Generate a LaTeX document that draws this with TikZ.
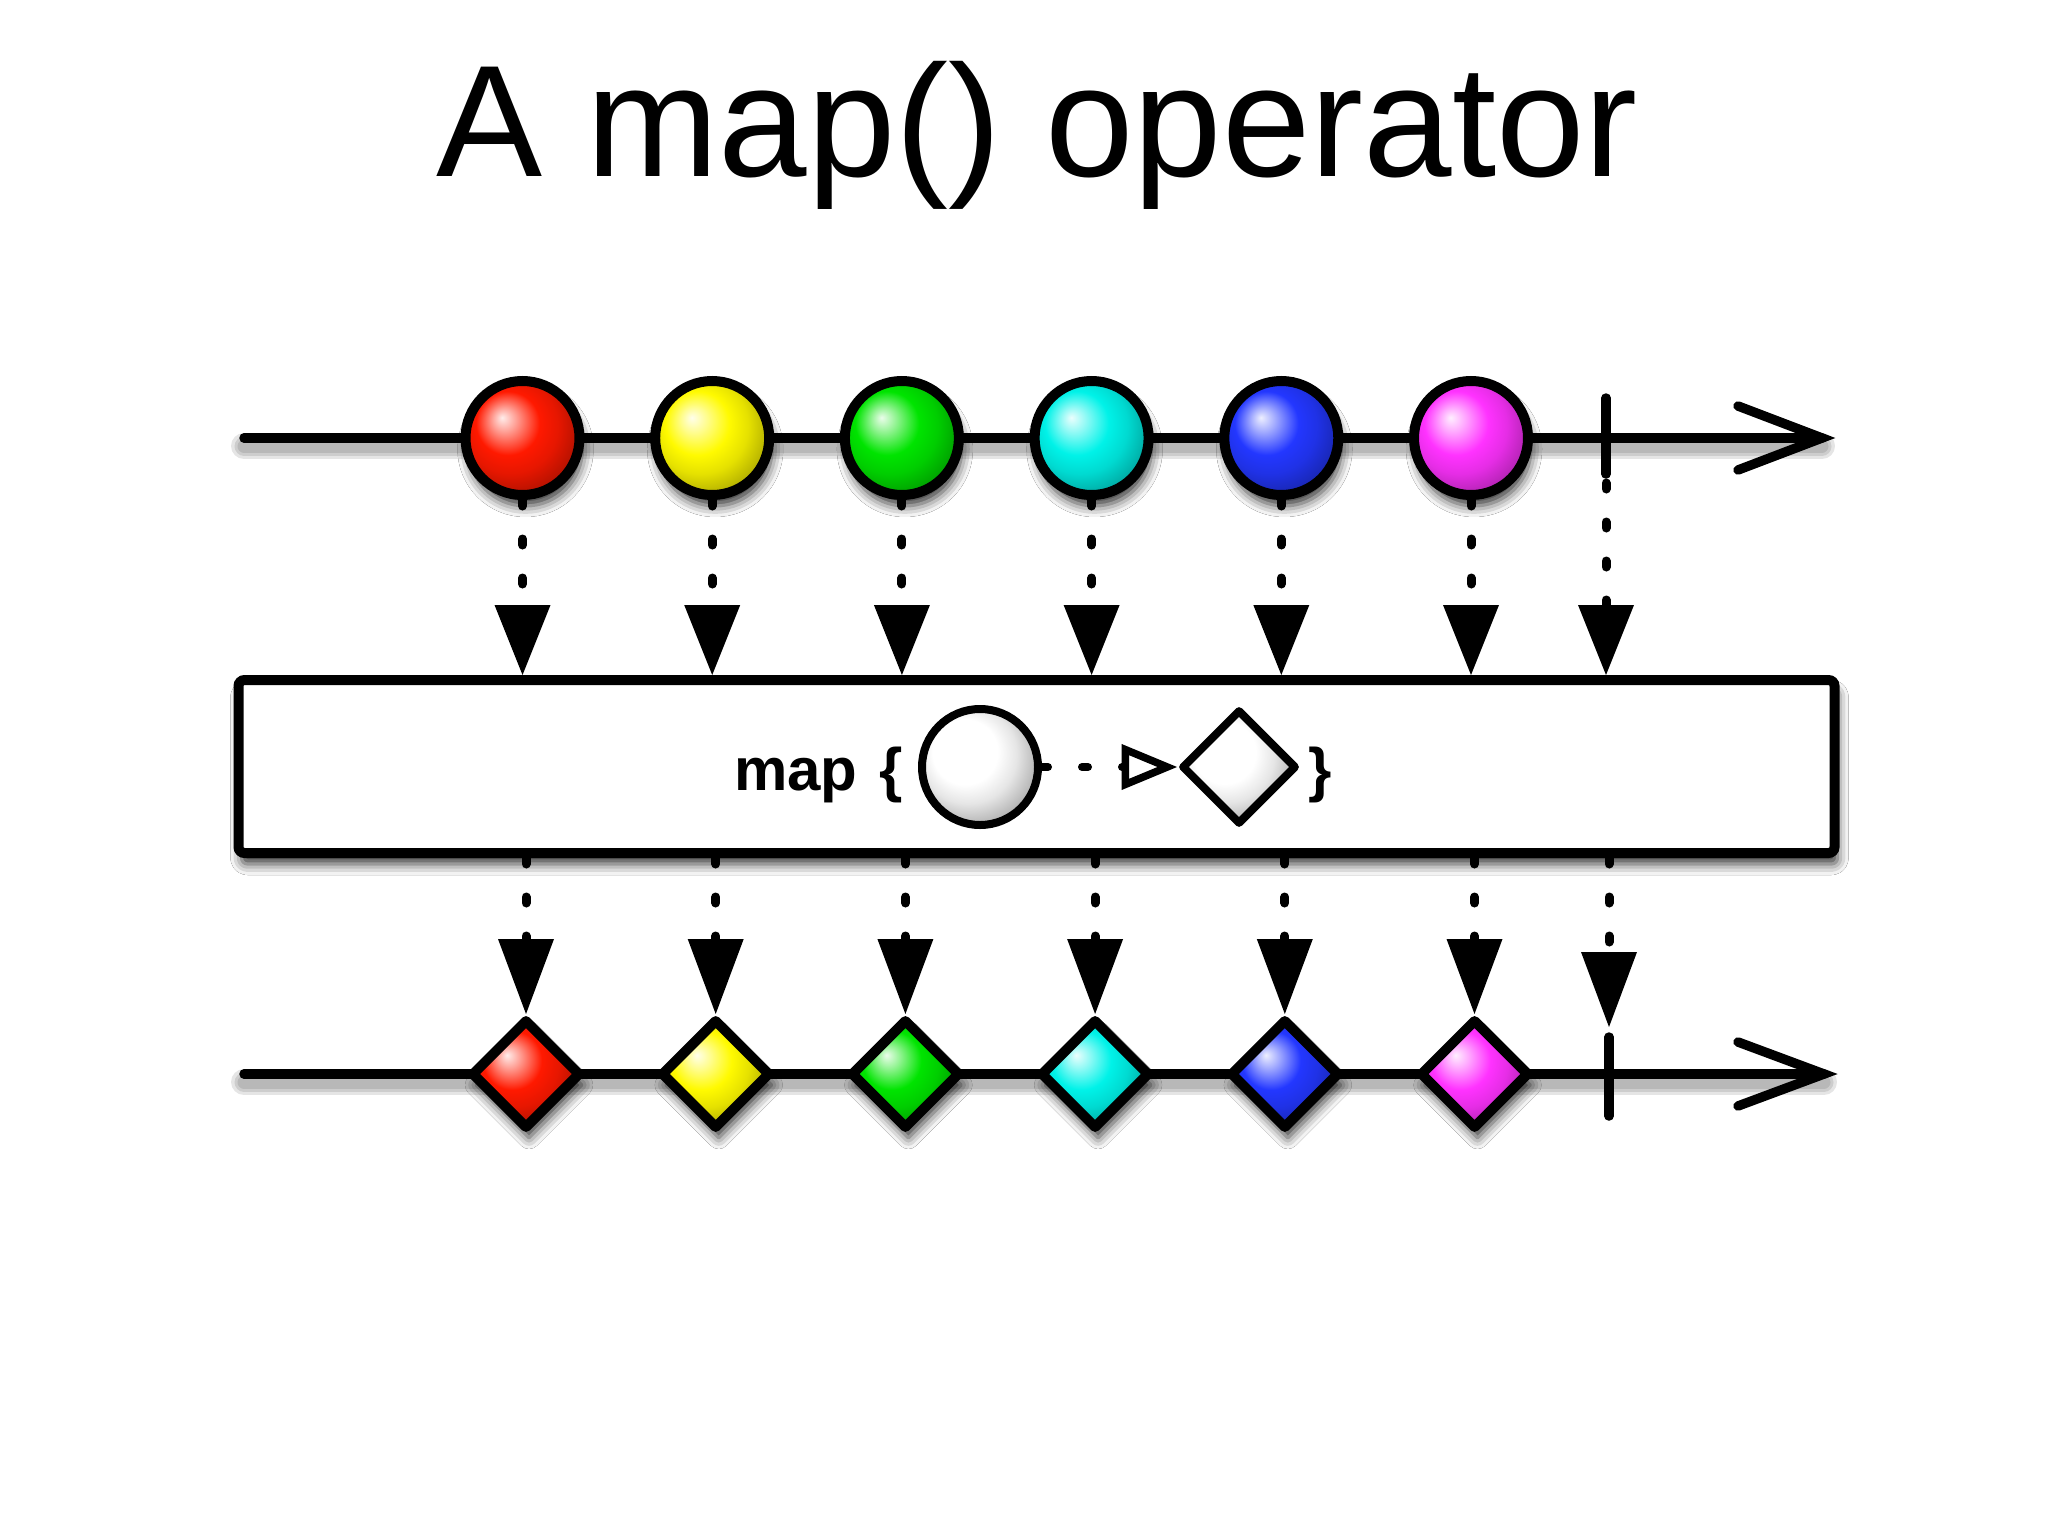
\documentclass[tikz,border=0pt]{standalone}
\usepackage{fontspec}
\setmainfont{Liberation Sans}
\usetikzlibrary{arrows.meta,shapes.geometric,shadows.blur}

\colorlet{mycol}{red}
\pgfdeclareradialshading[mycol]{glossy}{\pgfpoint{-9bp}{9bp}}{%
  color(0bp)=(mycol!8!white); color(5bp)=(mycol!40!white); color(14bp)=(mycol);
  color(21bp)=(mycol!90!black); color(29bp)=(mycol!70!black); color(50bp)=(mycol!70!black)}

\definecolor{cRed}{RGB}{255,25,0}
\definecolor{cYel}{RGB}{255,250,0}
\definecolor{cGrn}{RGB}{0,228,0}
\definecolor{cCyn}{RGB}{0,242,232}
\definecolor{cBlu}{RGB}{35,55,255}
\definecolor{cMag}{RGB}{255,50,255}

\tikzset{
  softshadow/.style={blur shadow={shadow xshift=3pt, shadow yshift=-11pt, shadow blur radius=11pt, shadow opacity=80}},
  tl/.style={line width=9.5pt, line cap=round},
  tlshadow/.style={line width=#1, draw=black, opacity=0.1, line cap=round},
  marble/.style={circle, draw, line width=10pt, minimum size=114pt, inner sep=0pt, shade, shading=glossy, softshadow},
  gem/.style={diamond, draw, line width=10pt, line join=round, minimum size=110pt, inner sep=0pt, shade, shading=glossy, softshadow},
  opbox/.style={rectangle, draw, fill=white, line width=10pt, rounded corners=6pt, minimum width=1596pt, minimum height=173pt, inner sep=0pt, softshadow},
  flowtop/.style={line width=9pt, line cap=round, dash pattern=on 6pt off 33pt,
    -{Triangle[width=56pt, length=70pt, line width=0pt]}},
  flowbot/.style={line width=9pt, line cap=round, dash pattern=on 6pt off 33pt,
    -{Triangle[width=56pt, length=75pt, line width=0pt]}},
  fdash/.style={line width=8pt, line cap=round, dash pattern=on 6pt off 34pt,
    -{Triangle[open, width=44pt, length=56pt, line width=7.5pt]}},
  boxtext/.style={inner sep=0pt, font=\fontsize{60}{70}\selectfont\bfseries},
}

\begin{document}
\begin{tikzpicture}[x=1pt, y=-1pt]
\useasboundingbox (0,0) rectangle (2048,1536);
\fill[white] (0,0) rectangle (2048,1536);

% title
\node[anchor=base, inner sep=0pt, font=\fontsize{159}{190}\selectfont] (title) at (1037,176) {A map() operator};

% timeline coordinates
\coordinate (t1s) at (244,438);
\coordinate (t1e) at (1822,438);
\coordinate (t2s) at (244,1074);
\coordinate (t2e) at (1824,1074);
\coordinate (endT) at (1606,438);
\coordinate (endB) at (1609,1076);

% soft shadows of timelines
\foreach \w in {26pt,19pt,13pt} {
  \draw[tlshadow=\w] ([yshift=-8pt]t1s) -- ([yshift=-8pt]t1e);
  \draw[tlshadow=\w] ([yshift=-8pt]t2s) -- ([yshift=-8pt]t2e);
}

% timelines with open arrow heads
\draw[tl] (t1s) -- (t1e);
\draw[tl, line join=miter] (t1e) ++(-84,-32) -- (t1e) -- ++(-84,32);
\draw[tl] (t2s) -- (t2e);
\draw[tl, line join=miter] (t2e) ++(-86,-32) -- (t2e) -- ++(-86,32);

% completion ticks
\draw[tl] (endT) ++(0,-40) -- ++(0,76);
\draw[tl] (endB) ++(0,-39) -- ++(0,79);
\coordinate (endTb) at (1606,483);
\coordinate (endBt) at (1609,1027);

% source marbles
\foreach \c [count=\i from 0] in {cRed,cYel,cGrn,cCyn,cBlu,cMag} {
  \colorlet{mycol}{\c}
  \node[marble] (m\i) at ({522.5+189.7*\i},438) {};
}

% result diamonds
\foreach \c [count=\i from 0] in {cRed,cYel,cGrn,cCyn,cBlu,cMag} {
  \colorlet{mycol}{\c}
  \node[gem] (g\i) at ({526+189.7*\i},1074) {};
}

% operator box
\node[opbox] (op) at (1036.5,766.5) {};

% box contents
\node[boxtext, anchor=base west] (maptxt) at (734,790) {map};
\node[boxtext, anchor=base] (lbr) at (891.5,790) {\{};
\colorlet{mycol}{white}
\node[circle, draw, line width=8pt, minimum size=116pt, inner sep=0pt, shade, shading=glossy] (fc) at (980,767) {};
\node[diamond, draw, line width=8pt, line join=round, minimum size=115pt, inner sep=0pt, shade, shading=glossy] (fd) at (1239,767) {};
\node[boxtext, anchor=base] (rbr) at (1320.5,790) {\}};
\draw[fdash] (fc) -- (fd);

% arrows into the box
\foreach \i in {0,...,5} {
  \draw[flowtop] (m\i) -- (m\i |- op.north);
}
\draw[flowtop] (endTb) -- (endTb |- op.north);

% arrows out of the box
\foreach \i in {0,...,5} {
  \draw[flowbot] (g\i.north |- op.south) -- (g\i);
}
\draw[flowbot] (endBt |- op.south) -- (endBt);
\end{tikzpicture}
\end{document}
